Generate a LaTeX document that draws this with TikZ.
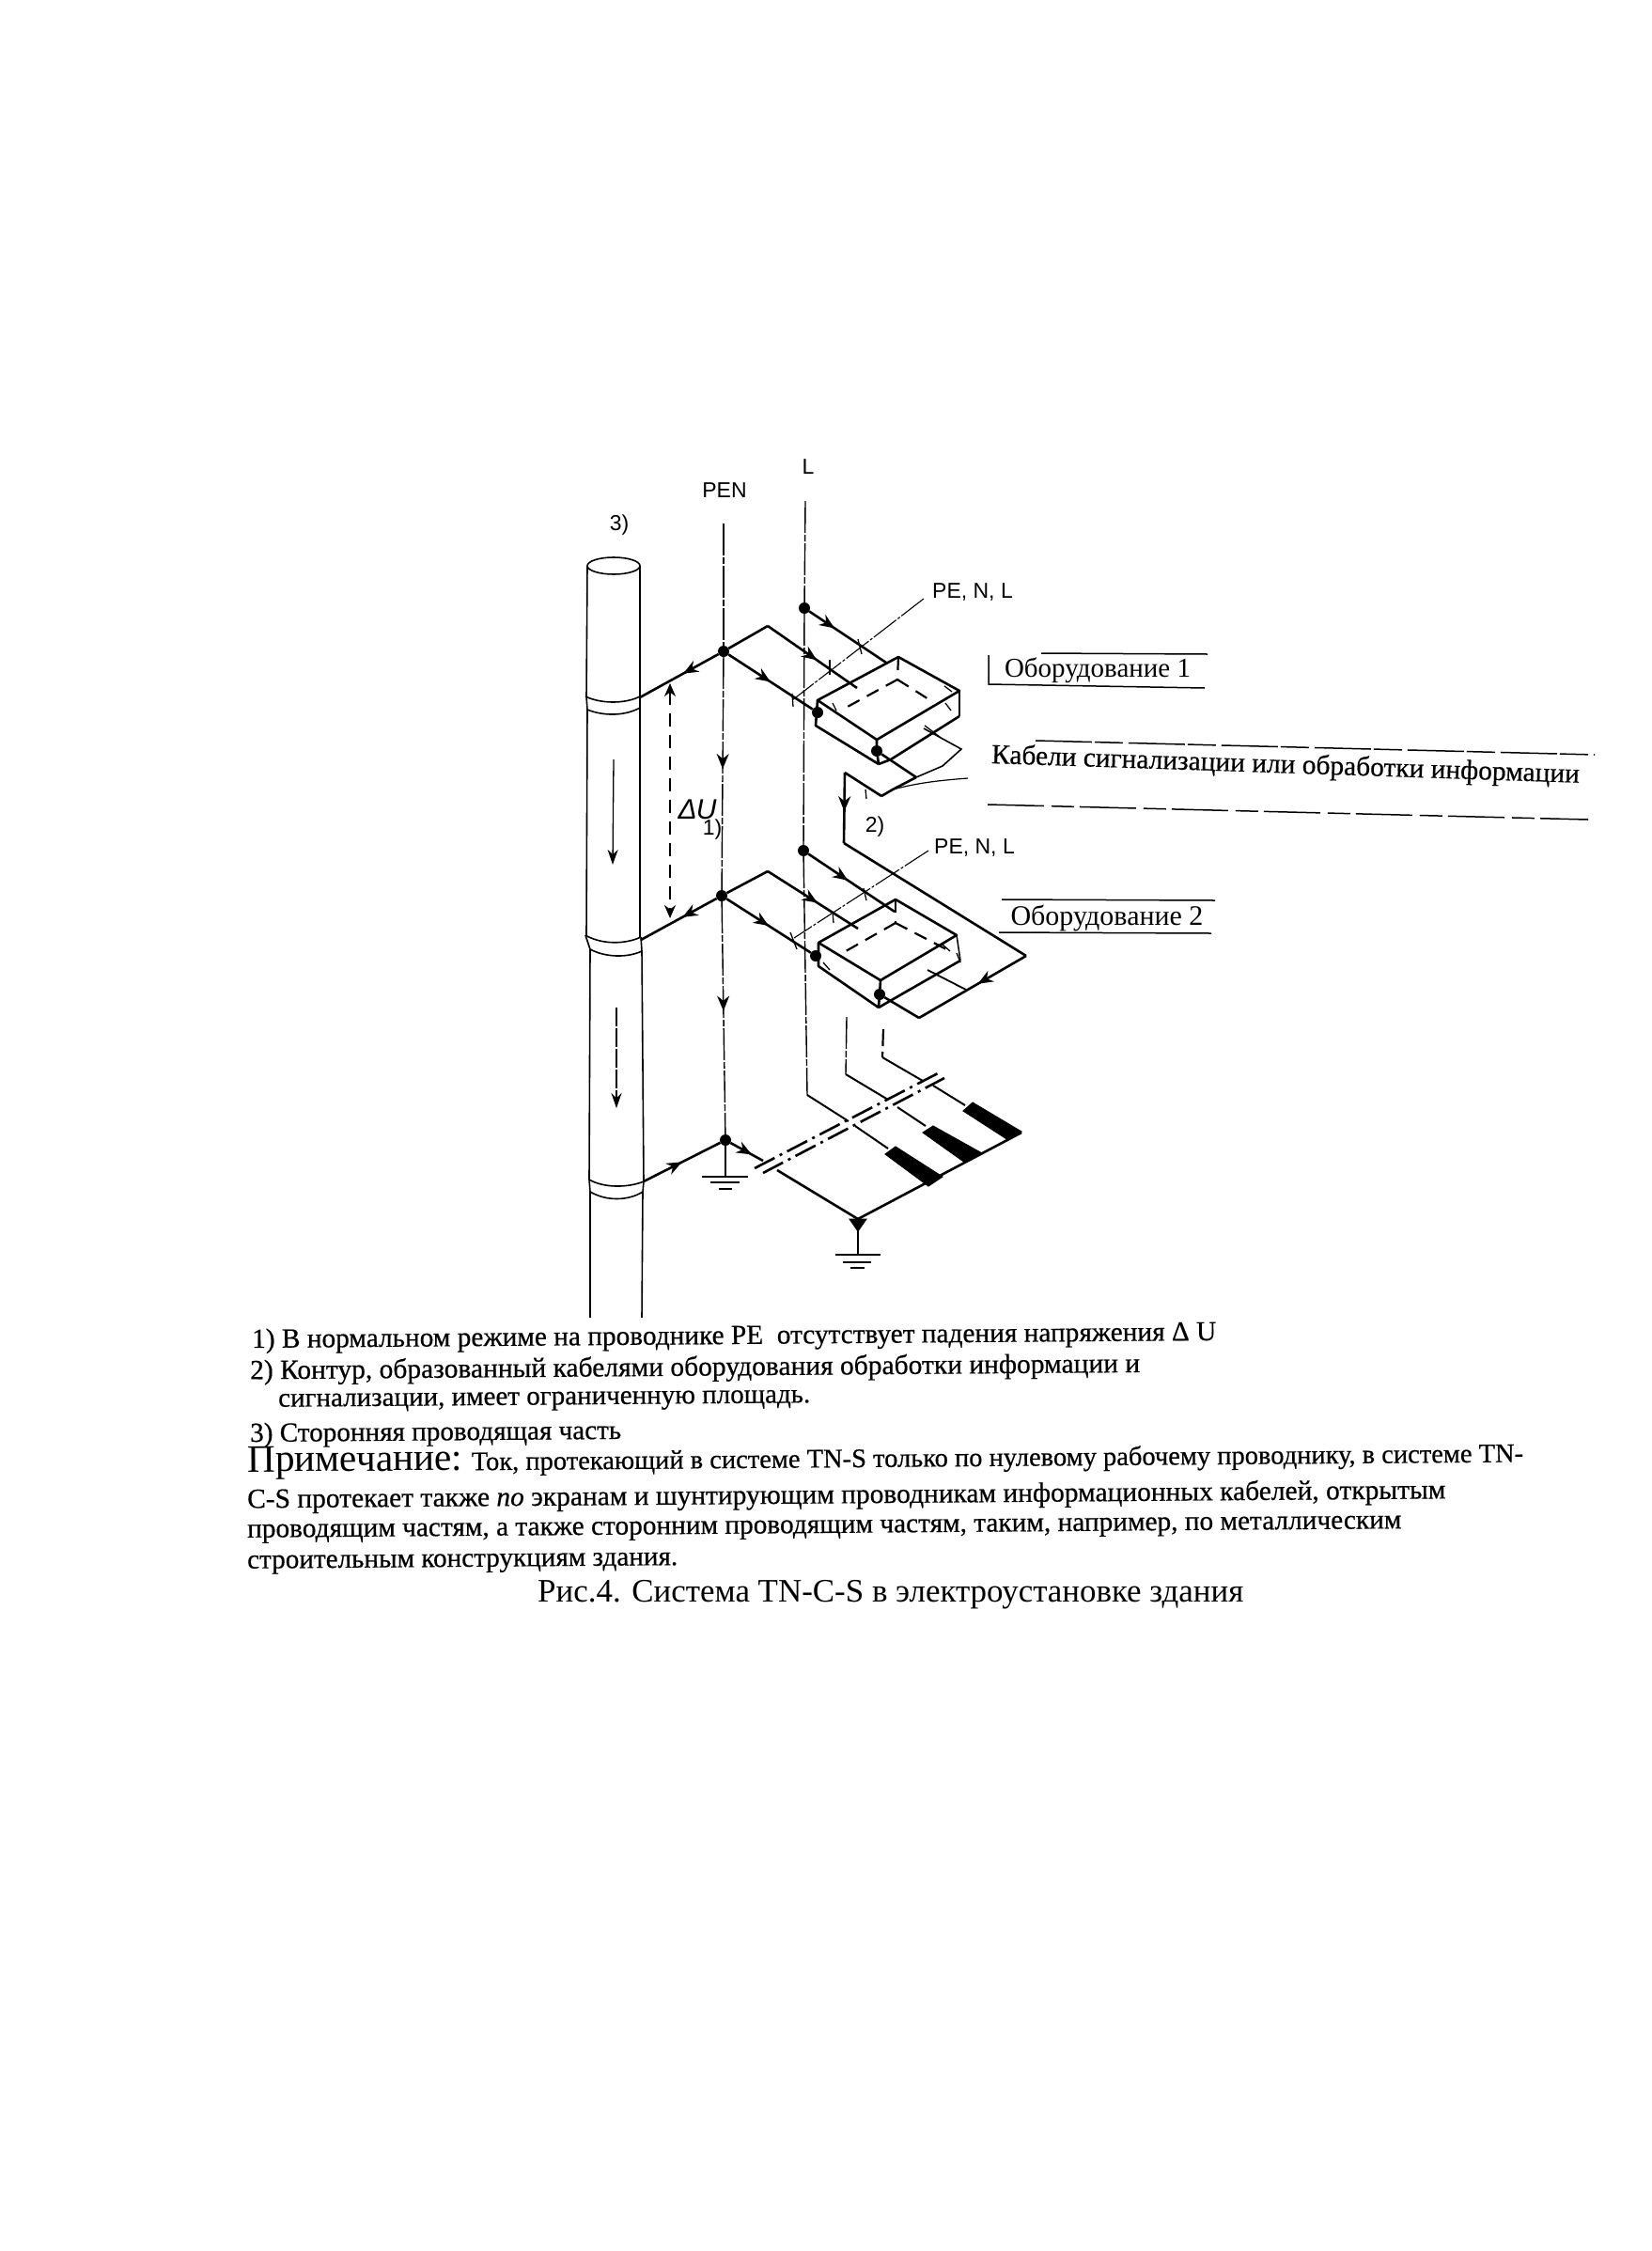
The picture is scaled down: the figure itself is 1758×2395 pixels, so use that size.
\documentclass[tikz,border=0pt]{standalone}
\usepackage{graphicx}
\usepackage{fontspec}
\setmainfont{Liberation Serif}
\newfontfamily\labfont{Liberation Sans}
\newfontfamily\heavy[FakeBold=0.5]{Liberation Serif}
\usetikzlibrary{arrows.meta,decorations.markings}
\newcommand{\fitw}[2]{\resizebox{#1pt}{!}{#2}}
\tikzset{
  wire/.style={line width=2.6pt,line join=round},
  thinw/.style={line width=1.4pt,dash pattern=on 34pt off 2pt on 7pt off 2pt},
  pipe/.style={line width=1.6pt},
  dashw/.style={line width=2.2pt,dash pattern=on 14pt off 9pt},
  busw/.style={line width=2.6pt,dash pattern=on 24pt off 6pt on 3pt off 6pt},
  leader/.style={line width=1.1pt,dash pattern=on 30pt off 2pt on 3pt off 2pt},
  ruleline/.style={line width=1.5pt},
  tickline/.style={line width=1.3pt},
  dot/.style={circle,fill=black,inner sep=0pt,minimum size=12pt},
  blockfill/.style={fill=black,draw=black,line width=1pt},
  midarrow/.style={postaction={decorate},decoration={markings,mark=at position #1 with {\arrow{Stealth[length=16pt,width=13pt]}}}},
  labeltext/.style={inner sep=0pt,font=\labfont\fontsize{23}{23}\selectfont},
  eqtext/.style={inner sep=0pt,font=\fontsize{26}{26}\selectfont},
  bodytext/.style={inner sep=0pt,anchor=west,rotate=0.45,font=\heavy\fontsize{10}{12}\selectfont},
}
\begin{document}
\begin{tikzpicture}[x=1pt,y=-1pt]
\useasboundingbox (0,0) rectangle (1758,2395);
\fill[white] (0,0) rectangle (1758,2395);

% junction nodes
\node[dot] (pa) at (770,693) {};
\node[dot] (pb) at (768,953) {};
\node[dot] (pc) at (772,1213) {};
\node[dot] (la) at (856,647) {};
\node[dot] (lb) at (855,905) {};
\node[dot] (ba) at (870,758) {};
\node[dot] (bb) at (868,1017) {};
\node[dot] (fa) at (933,799) {};
\node[dot] (fb) at (936,1058) {};

% free ends and corners
\coordinate (pentop) at (770,557);
\coordinate (ltop) at (857,533);
\coordinate (lbend) at (859,1165);
\coordinate (gaA) at (772,1252);
\coordinate (gbA) at (913,1335);
\coordinate (gbT) at (913,1297);
\coordinate (ring1) at (681,742);
\coordinate (ring2) at (682,1000);
\coordinate (ring3) at (685,1257);

% pipe
\draw[pipe] (653,602) ellipse [x radius=28,y radius=9];
\draw[pipe] (625,602) -- (624,742);
\draw[pipe] (681,602) -- (681,742);
\draw[pipe] (623,741) .. controls (640,749) and (665,749) .. (681,741);
\draw[pipe] (624,741) -- (625,755);
\draw[pipe] (681,741) -- (681,753);
\draw[pipe] (625,755) .. controls (642,762) and (665,762) .. (681,753);
\draw[pipe] (625,755) -- (624,995);
\draw[pipe] (681,753) -- (681,997);
\draw[pipe] (623,995) .. controls (640,1005) and (665,1005) .. (682,997);
\draw[pipe] (623,995) -- (628,1010);
\draw[pipe] (682,997) -- (683,1012);
\draw[pipe] (628,1010) .. controls (645,1019) and (668,1019) .. (683,1012);
\draw[pipe] (628,1010) -- (627,1255);
\draw[pipe] (683,1012) -- (685,1257);
\draw[pipe] (627,1255) .. controls (642,1264) and (668,1264) .. (685,1257);
\draw[pipe] (627,1255) -- (628,1268);
\draw[pipe] (685,1257) -- (684,1268);
\draw[pipe] (628,1268) .. controls (645,1278) and (668,1278) .. (684,1268);
\draw[pipe] (628,1268) -- (628,1402);
\draw[pipe] (684,1268) -- (683,1402);
\draw[line width=1.3pt,-{Stealth[length=16pt,width=11pt]}] (653,808) -- (652,920);
\draw[line width=1.1pt,dash pattern=on 20pt off 2pt,-{Stealth[length=16pt,width=11pt]}] (656,1072) -- (656,1179);

% PEN and L verticals
\draw[thinw] (pentop) -- (pa);
\draw[thinw,midarrow=0.48] (pa) -- (pb);
\draw[thinw,midarrow=0.47] (pb) -- (pc);
\draw[line width=1.8pt] (pc) -- (gaA);
\draw[line width=2.2pt] (747,1252) -- (796,1252);
\draw[line width=2pt] (756,1258) -- (787,1258);
\draw[line width=1.5pt] (765,1265) -- (779,1265);
\draw[thinw] (ltop) -- (la);
\draw[thinw] (la) -- (lb);
\draw[thinw] (lb) -- (lbend);

% equipment 1
\draw[wire,midarrow=0.33] (la) -- (943,705);
\draw[wire] (817,666) -- (pa);
\draw[wire,midarrow=0.55] (817,666) -- (912,732);
\draw[wire,midarrow=0.5] (pa) -- (ba);
\draw[wire,midarrow=0.45] (pa) -- (ring1);
\draw[wire] (870,745) -- (956,699) -- (1021,735) -- (933,787) -- cycle;
\draw[wire] (1021,735) -- (1021,762);
\draw[wire] (870,745) -- (868,772) -- (935,813);
\draw[wire] (933,787) -- (fa) -- (935,813);
\draw[wire] (935,813) -- (948,808) -- (1021,762);
\draw[dashw] (956,699) -- (955,723);
\draw[dashw] (955,723) -- (900,753);
\draw[dashw] (955,723) -- (993,747);
\draw[wire] (fa) -- (975,827);
\draw[wire] (975,827) -- (950,840) -- (938,847);
\draw[wire] (938,847) -- (899,822);
\draw[wire,midarrow=0.55] (899,822) -- (898,897);
\draw[line width=1.6pt] (983,775) -- (1023,797) -- (1003,815) -- (975,827);
\draw[line width=1.2pt] (950,840) .. controls (980,832) and (1005,830) .. (1030,828);
\draw[leader] (983,637) -- (843,745);
\draw[tickline] (913,680) -- (917,696);
\draw[tickline] (883,702) -- (883,718);
\draw[tickline] (843,738) -- (844,752);
\draw[tickline] (984,772) -- (1000,784);
\draw[tickline] (1005,730) -- (1013,736);
\draw[tickline] (1006,748) -- (1012,756);
\draw[tickline] (886,748) -- (890,756);
\draw[tickline] (921,840) -- (922,850);

% wire loop between the two
\draw[wire] (898,897) -- (1092,1017);
\draw[wire,midarrow=0.45] (1092,1017) -- (978,1083);
\draw[wire] (978,1083) -- (fb);

% equipment 2
\draw[wire,midarrow=0.46] (lb) -- (952,970);
\draw[wire] (817,927) -- (pb);
\draw[wire,midarrow=0.55] (817,927) -- (913,988);
\draw[wire,midarrow=0.5] (pb) -- (bb);
\draw[wire,midarrow=0.45] (pb) -- (ring2);
\draw[wire] (871,1003) -- (953,957) -- (1018,995) -- (937,1043) -- cycle;
\draw[line width=1.5pt] (1018,995) -- (1022,1022);
\draw[wire] (871,1003) -- (871,1028) -- (935,1072);
\draw[wire] (937,1043) -- (fb) -- (935,1072);
\draw[wire] (935,1072) -- (947,1065) -- (1022,1022);
\draw[dashw] (953,957) -- (953,982);
\draw[dashw] (953,982) -- (900,1012);
\draw[dashw] (953,982) -- (1007,1010);
\draw[line width=1.8pt] (987,1032) -- (1028,1053);
\draw[leader] (988,905) -- (845,998);
\draw[tickline] (919,945) -- (922,958);
\draw[tickline] (886,970) -- (887,982);
\draw[tickline] (841,992) -- (848,1010);
\draw[tickline] (1003,1005) -- (1011,1012);
\draw[tickline] (1018,1014) -- (1022,1024);
\draw[tickline] (876,1024) -- (883,1032);

% lower cables
\draw[thinw] (901,1082) -- (900,1143);
\draw[line width=2pt] (900,1143) -- (945,1170);
\draw[dashw,dash pattern=on 18pt off 6pt] (940,1095) -- (939,1125);
\draw[line width=2pt] (939,1125) -- (982,1150);
\draw[line width=2pt] (lbend) -- (903,1193);
\draw[line width=2pt] (910,1198) -- (945,1222);
\draw[line width=2pt] (955,1178) -- (985,1198);
\draw[line width=2pt] (993,1155) -- (1027,1176);
\draw[busw] (803,1243) -- (998,1142);
\draw[busw] (812,1248) -- (1005,1147);
\fill[blockfill] (1025,1182) -- (1035,1173) -- (1087,1204) -- (1073,1213) -- cycle;
\fill[blockfill] (982,1205) -- (993,1198) -- (1045,1227) -- (1027,1237) -- cycle;
\fill[blockfill] (942,1228) -- (953,1220) -- (1003,1252) -- (988,1262) -- cycle;

% lower connections
\draw[wire,midarrow=0.5] (ring3) -- (pc);
\draw[wire,midarrow=0.65] (pc) -- (812,1235);
\draw[wire] (827,1245) -- (gbT);
\draw[wire] (1087,1205) -- (gbT);
\fill[blockfill] (904,1297) -- (922,1297) -- (913,1310) -- cycle;
\draw[line width=2pt] (gbT) -- (gbA);
\draw[line width=2.2pt] (889,1335) -- (937,1335);
\draw[line width=1.8pt] (897,1343) -- (927,1343);
\draw[line width=1.6pt] (905,1349) -- (920,1349);

% voltage arrow
\draw[dashw,line width=1.9pt,{Stealth[length=14pt,width=12pt]}-{Stealth[length=14pt,width=12pt]}] (713,727) -- (713,977);

% diagram labels
\node[labeltext] (lpen) at (771,522) {PEN};
\node[labeltext] (ll) at (860,497) {L};
\node[labeltext] (l3) at (659,559) {3)};
\node[labeltext] (lpe1) at (1035,630) {PE, N, L};
\node[labeltext] (lpe2) at (1037,902) {PE, N, L};
\node[labeltext] (l2) at (931,880) {2)};
\node[labeltext] (l1) at (758,883) {1)};
\node[labeltext,font=\labfont\itshape\fontsize{30}{30}\selectfont] (ldu) at (742,861) {Δ\kern-1pt U};

% equipment labels
\node[eqtext] (eq1) at (1168,713) {\fitw{198}{Оборудование 1}};
\draw[ruleline] (1108,695) -- (1285,696);
\draw[ruleline] (1052,697) -- (1052,728) -- (1282,732);
\node[eqtext,rotate=-1.9] (cab) at (1368,815) {\fitw{626}{\heavy Кабели сигнализации или обработки информации}};
\draw[ruleline,dash pattern=on 60pt off 3pt on 30pt off 6pt] (1102,788) -- (1697,803);
\draw[ruleline,dash pattern=on 60pt off 8pt on 24pt off 6pt] (1051,856) -- (1690,872);
\node[eqtext] (eq2) at (1178,977) {\fitw{205}{Оборудование 2}};
\draw[ruleline] (1066,957) -- (1293,958);
\draw[ruleline] (1063,992) -- (1289,993);

% notes
\node[bodytext] (n1) at (268,1427) {\fitw{1026}{1) В нормальном режиме на проводнике PE\ \ отсутствует падения напряжения Δ U}};
\node[bodytext] (n2) at (266,1460) {\fitw{947}{2) Контур, образованный кабелями оборудования обработки информации и}};
\node[bodytext] (n3) at (296,1493) {\fitw{566}{сигнализации, имеет ограниченную площадь.}};
\node[bodytext] (n4) at (266,1527) {\fitw{395}{3) Сторонняя проводящая часть}};
\node[bodytext] (n5) at (263,1557) {\fitw{1358}{{\rmfamily\fontsize{14.5}{14.5}\selectfont Примечание:} Ток, протекающий в системе TN-S только по нулевому рабочему проводнику, в системе TN-}};
\node[bodytext] (n6) at (263,1597) {\fitw{1275}{C-S протекает также \textit{по} экранам и шунтирующим проводникам информационных кабелей, открытым}};
\node[bodytext] (n7) at (263,1632) {\fitw{1228}{проводящим частям, а также сторонним проводящим частям, таким, например, по металлическим}};
\node[bodytext] (n8) at (263,1665) {\fitw{458}{строительным конструкциям здания.}};
\node[bodytext,rotate=-0.45,font=\fontsize{10}{12}\selectfont] (capt) at (572,1697) {\fitw{751}{Рис.4. Система TN-C-S в электроустановке здания}};
\end{tikzpicture}
\end{document}
